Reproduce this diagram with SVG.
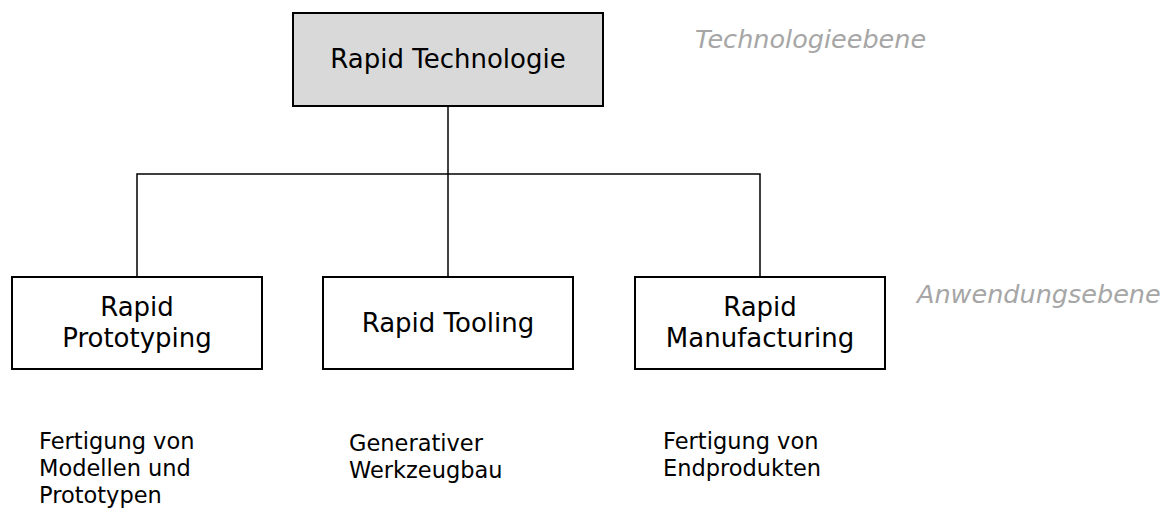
<svg xmlns="http://www.w3.org/2000/svg" width="1168" height="517" viewBox="0 0 1168 517">
<style>
.box{fill:#ffffff;stroke:#000000;stroke-width:2}
.top{fill:#d9d9d9;stroke:#000000;stroke-width:2}
.t{font-family:"DejaVu Sans",Verdana,sans-serif;font-size:26px;fill:#000;text-anchor:middle}
.d{font-family:"DejaVu Sans",Verdana,sans-serif;font-size:22.5px;fill:#000}
.g{font-family:"DejaVu Sans",Verdana,sans-serif;font-size:25.5px;font-style:italic;fill:#a6a6a6}
.c{fill:none;stroke:#000;stroke-width:1.5}
</style>
<g id="connectors">
<path class="c" d="M448 106 V277"/>
<path class="c" d="M137 277 V174 H760 V277"/>
</g>
<g id="rapid-technologie">
<rect class="top" x="293" y="13" width="310" height="93"/>
<text class="t" x="448" y="68">Rapid Technologie</text>
</g>
<g id="rapid-prototyping">
<rect class="box" x="12" y="277" width="250" height="92"/>
<text class="t" x="137" y="316">Rapid</text>
<text class="t" x="137" y="347">Prototyping</text>
</g>
<g id="rapid-tooling">
<rect class="box" x="323" y="277" width="250" height="92"/>
<text class="t" x="448" y="332">Rapid Tooling</text>
</g>
<g id="rapid-manufacturing">
<rect class="box" x="635" y="277" width="250" height="92"/>
<text class="t" x="760" y="316">Rapid</text>
<text class="t" x="760" y="347">Manufacturing</text>
</g>
<g id="labels">
<text class="g" x="695" y="48">Technologieebene</text>
<text class="g" x="917" y="303">Anwendungsebene</text>
</g>
<g id="descriptions">
<text class="d" x="39" y="449">Fertigung von</text>
<text class="d" x="39" y="476">Modellen und</text>
<text class="d" x="39" y="503">Prototypen</text>
<text class="d" x="349" y="451">Generativer</text>
<text class="d" x="349" y="478">Werkzeugbau</text>
<text class="d" x="663" y="449">Fertigung von</text>
<text class="d" x="663" y="476">Endprodukten</text>
</g>
</svg>
